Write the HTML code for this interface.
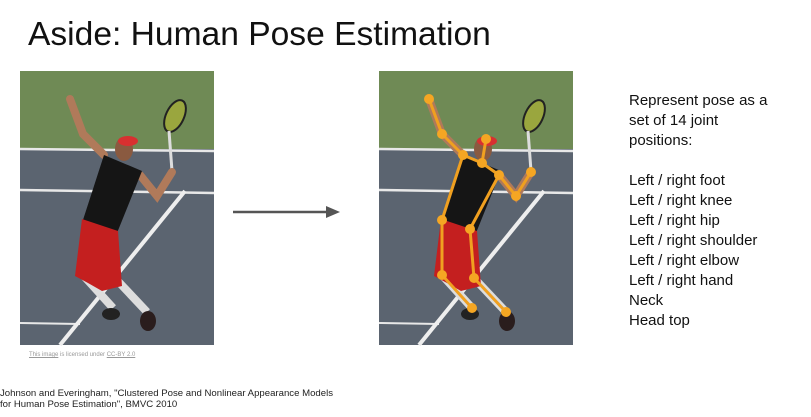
<!DOCTYPE html>
<html><head><meta charset="utf-8"><style>
body{margin:0;width:811px;height:417px;background:#fff;overflow:hidden;font-family:"Liberation Sans",sans-serif;position:relative}
.t{position:absolute;margin:0;white-space:nowrap}
</style></head><body>
<div class="t" style="left:28px;top:16px;font-size:33.6px;color:#111">Aside: Human Pose Estimation</div>
<svg width="811" height="417" style="position:absolute;left:0;top:0">
<defs>
<g id="photo">
<rect x="0" y="0" width="194" height="274" fill="#5b6470"/>
<rect x="0" y="0" width="194" height="78" fill="#6f8a55"/>
<line x1="0" y1="78" x2="194" y2="80" stroke="#e8e8e8" stroke-width="2.5"/>
<line x1="0" y1="119" x2="194" y2="122" stroke="#e8e8e8" stroke-width="2.5"/>
<line x1="0" y1="252" x2="60" y2="253" stroke="#e8e8e8" stroke-width="2"/>
<line x1="165" y1="120" x2="40" y2="274" stroke="#eee" stroke-width="4"/>
<ellipse cx="155" cy="45" rx="9" ry="17" transform="rotate(25 155 45)" fill="#9aa63e" stroke="#222" stroke-width="2"/>
<line x1="149" y1="60" x2="152" y2="100" stroke="#ddd" stroke-width="3"/>
<polyline points="50,28 63,63 84,84" fill="none" stroke="#b07a5a" stroke-width="8" stroke-linecap="round"/>
<polyline points="120,104 137,125 152,101" fill="none" stroke="#b07a5a" stroke-width="8" stroke-linecap="round"/>
<polyline points="63,204 93,237" stroke="#ddd" stroke-width="8"/>
<polyline points="95,207 127,241" stroke="#ddd" stroke-width="8"/>
<ellipse cx="91" cy="243" rx="9" ry="6" fill="#222"/>
<ellipse cx="128" cy="250" rx="8" ry="10" fill="#2a1d1d"/>
<polygon points="84,84 122,100 97,162 62,152" fill="#151515"/>
<polygon points="62,148 98,160 102,215 82,220 68,212 55,205" fill="#c41f1f"/>
<ellipse cx="104" cy="78" rx="9" ry="12" fill="#8a5a40"/>
<ellipse cx="108" cy="70" rx="10" ry="5" fill="#d83030"/>
</g>
</defs>
<use href="#photo" x="20" y="71"/>
<use href="#photo" x="379" y="71"/>
<g id="skel" transform="translate(379,71)"></g>
<line x1="233" y1="212" x2="330" y2="212" stroke="#555" stroke-width="2.5"/>
<polygon points="340,212 326,206 326,218" fill="#555"/>
</svg>
<div class="t" style="left:29px;top:352px;font-size:6px;color:#999"><u>This image</u> is licensed under <u>CC-BY 2.0</u></div>
<div class="t" style="left:0;top:388px;font-size:9.6px;color:#222;line-height:11px">Johnson and Everingham, "Clustered Pose and Nonlinear Appearance Models<br>for Human Pose Estimation", BMVC 2010</div>
<div class="t" style="left:629px;top:91px;font-size:15px;color:#111;line-height:20px">Represent pose as a<br>set of 14 joint<br>positions:<br><br>Left / right foot<br>Left / right knee<br>Left / right hip<br>Left / right shoulder<br>Left / right elbow<br>Left / right hand<br>Neck<br>Head top</div>
<script>
const jointX=[107,103,84,120,63,50,137,152,63,91,63,95,93,127];
const jointY=[68,92,84,104,63,28,125,101,149,158,204,207,237,241];
const bones=[[0,1],[1,2],[1,3],[2,4],[4,5],[3,6],[6,7],[2,8],[3,9],[8,10],[9,11],[10,12],[11,13]];
const g=document.getElementById('skel');const NS='http://www.w3.org/2000/svg';
bones.forEach(b=>{const l=document.createElementNS(NS,'line');


l.setAttribute('x1',jointX[b[0]]);l.setAttribute('y1',jointY[b[0]]);l.setAttribute('x2',jointX[b[1]]);l.setAttribute('y2',jointY[b[1]]);
l.setAttribute('stroke','#f0a020');l.setAttribute('stroke-width','3');g.appendChild(l);});
jointX.forEach((x,i)=>{const c=document.createElementNS(NS,'circle');


c.setAttribute('cx',x);c.setAttribute('cy',jointY[i]);c.setAttribute('r','5');c.setAttribute('fill','#f5a623');g.appendChild(c);});
</script>
</body></html>
